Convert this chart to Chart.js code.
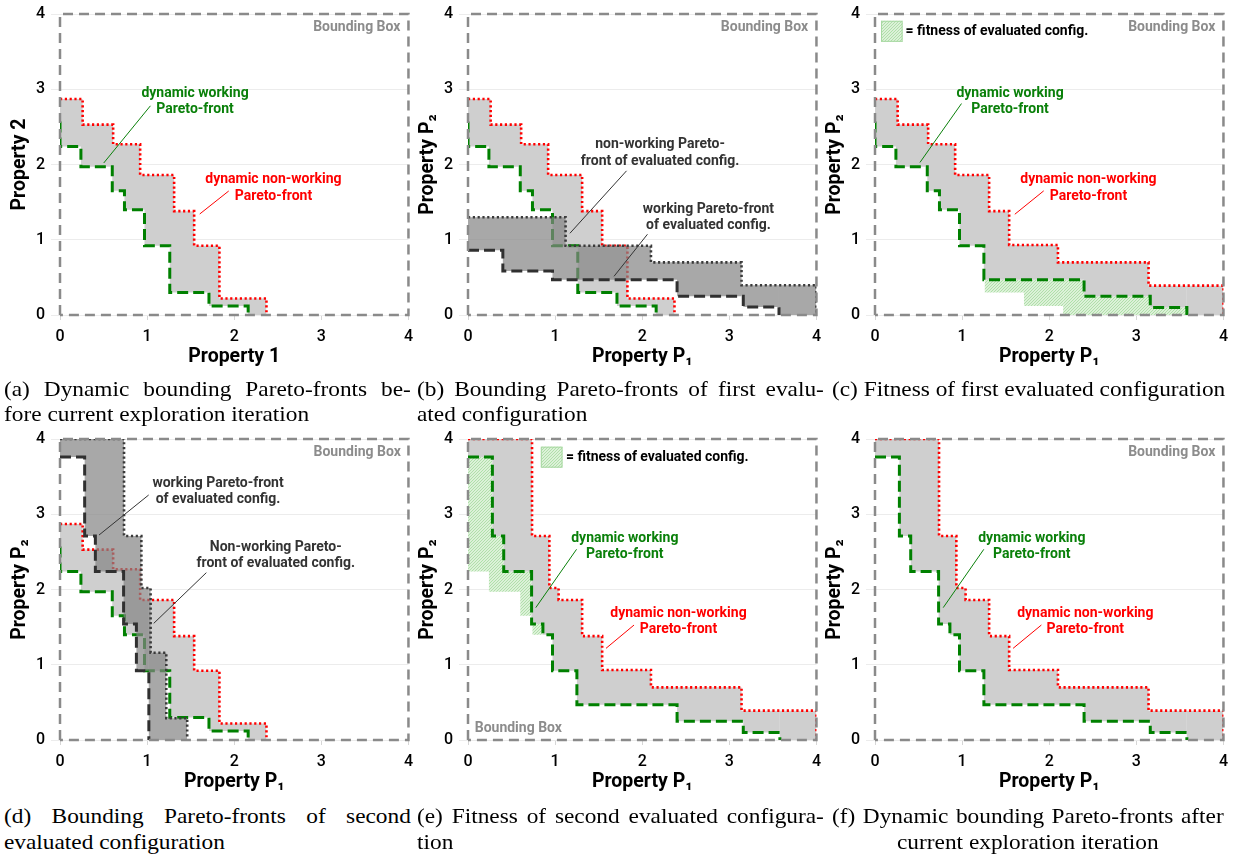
<!DOCTYPE html>
<html>
<head>
<meta charset="utf-8">
<script src="https://cdn.jsdelivr.net/npm/chart.js@4.4.1/dist/chart.umd.min.js"></script>
<style>
body { margin: 0; background: #fff; width: 1236px; height: 858px; position: relative; overflow: hidden; }
canvas { position: absolute; }
.cap { position: absolute; font-family: "Liberation Serif", "Times New Roman", serif; font-size: 21.5px; line-height: 25px; color: #000;
       transform: scaleX(1.085); transform-origin: 0 0; }
.cap.r2 { line-height: 26px; }
.j { text-align: justify; text-align-last: justify; }
.c { text-align: center; }
.nw { white-space: nowrap; }
</style>
</head>
<body>
<canvas id="pa" width="422" height="375" style="left:0;top:0"></canvas>
<canvas id="pb" width="422" height="375" style="left:408px;top:0"></canvas>
<canvas id="pc" width="422" height="375" style="left:815px;top:0"></canvas>
<canvas id="pd" width="422" height="375" style="left:0;top:425px"></canvas>
<canvas id="pe" width="422" height="375" style="left:408px;top:425px"></canvas>
<canvas id="pf" width="422" height="375" style="left:815px;top:425px"></canvas>

<div class="cap" style="left:4px;top:377px;width:375px">
  <div class="j">(a) Dynamic bounding Pareto-fronts be-</div>
  <div>fore current exploration iteration</div>
</div>
<div class="cap" style="left:417px;top:377px;width:375px">
  <div class="j">(b) Bounding Pareto-fronts of first evalu-</div>
  <div>ated configuration</div>
</div>
<div class="cap nw" style="left:832px;top:377px;width:361px">
  <div>(c) Fitness of first evaluated configuration</div>
</div>
<div class="cap r2" style="left:4px;top:803px;width:375px">
  <div class="j">(d) Bounding Pareto-fronts of second</div>
  <div>evaluated configuration</div>
</div>
<div class="cap r2" style="left:417px;top:803px;width:375px">
  <div class="j">(e) Fitness of second evaluated configura-</div>
  <div>tion</div>
</div>
<div class="cap r2" style="left:832px;top:803px;width:361px">
  <div class="j">(f) Dynamic bounding Pareto-fronts after</div>
  <div class="c">current exploration iteration</div>
</div>

<script>
// bounding box of the design space
const boxX = [0, 0, 4, 4, 0];
const boxY = [0, 4, 4, 0, 0];

// dynamic fronts before the exploration iteration (a, b, d)
const oldNwX = [0, 0.26, 0.61, 0.92, 1.31, 1.54, 1.83, 2.37];
const oldNwY = [2.87, 2.53, 2.27, 1.86, 1.38, 0.92, 0.22, 0];
const oldWX = [0, 0, 0.24, 0.60, 0.74, 0.97, 1.26, 1.71, 2.16];
const oldWY = [2.57, 2.24, 1.97, 1.65, 1.40, 0.92, 0.30, 0.12, 0];

// fronts of the first evaluated configuration (b)
const c1NwX = [0, 1.12, 2.10, 3.14, 4];
const c1NwY = [1.30, 0.92, 0.70, 0.395, 0];
const c1WX = [0, 0.40, 0.97, 2.40, 3.16, 3.57];
const c1WY = [0.86, 0.585, 0.47, 0.25, 0.105, 0];

// dynamic fronts after the first configuration (c)
const midNwX = [0, 0.26, 0.61, 0.92, 1.31, 1.54, 2.10, 3.14, 4];
const midNwY = [2.87, 2.53, 2.27, 1.86, 1.38, 0.93, 0.70, 0.39, 0];
const midWX = [0, 0, 0.24, 0.60, 0.74, 0.97, 1.25, 2.40, 3.16, 3.58];
const midWY = [2.57, 2.24, 1.97, 1.65, 1.40, 0.92, 0.47, 0.25, 0.10, 0];

// fronts of the second evaluated configuration (d)
const c2NwX = [0, 0.735, 0.934, 1.04, 1.22, 1.46];
const c2NwY = [4, 2.71, 2.02, 1.16, 0.29, 0];
const c2WX = [0, 0.283, 0.406, 0.73, 0.877, 1.02];
const c2WY = [3.76, 2.71, 2.24, 1.54, 0.92, 0];

// dynamic fronts after the exploration iteration (e, f)
const newNwX = [0, 0.735, 0.934, 1.04, 1.31, 1.54, 2.10, 3.14, 4];
const newNwY = [4, 2.71, 2.02, 1.86, 1.38, 0.93, 0.70, 0.39, 0];
const newWX = [0, 0.28, 0.41, 0.73, 0.86, 0.97, 1.25, 2.40, 3.16, 3.58];
const newWY = [3.76, 2.71, 2.24, 1.54, 1.40, 0.92, 0.47, 0.25, 0.10, 0];

const NONE = 'rgba(0,0,0,0)';
const GRAY = '#cfcfcf';
const DARK = 'rgba(132,132,132,0.71)';
const GTXT = '#0a800a';
const HATCH = (function () {
  const c = document.createElement('canvas');
  c.width = c.height = 3;
  const g = c.getContext('2d');
  g.fillStyle = '#dcf1d8';
  g.fillRect(0, 0, 3, 3);
  g.strokeStyle = '#b0dfaa';
  g.lineWidth = 1;
  g.beginPath();
  g.moveTo(0, 3); g.lineTo(3, 0);
  g.moveTo(-1, 1); g.lineTo(1, -1);
  g.moveTo(2, 4); g.lineTo(4, 2);
  g.stroke();
  return g.createPattern(c, 'repeat');
})();

const RED = { borderColor: '#ff0000', borderWidth: 2.6, borderDash: [2.2, 2.6] };
const GREEN = { borderColor: '#008000', borderWidth: 3, borderDash: [11, 5] };
const BDOT = { borderColor: '#3a3a3a', borderWidth: 2.6, borderDash: [2.2, 2.6] };
const BDASH = { borderColor: '#303030', borderWidth: 3, borderDash: [11, 5] };

function front(xs, ys, extra) {
  const data = xs.map((x, i) => ({ x: x, y: ys[i] }));
  if (xs[xs.length - 1] < 4) data.push({ x: 4, y: 0 });
  return Object.assign({
    data: data, showLine: true, stepped: true, pointRadius: 0,
    borderWidth: 1, borderColor: NONE, fill: false,
    segment: {
      borderColor: c => (data[c.p0DataIndex].y === 0 && data[c.p1DataIndex].y === 0) ? NONE : undefined
    }
  }, extra);
}

function area(up, low, color) {
  return { kind: 'area', up: up, low: low, color: color };
}
function line(xs, ys, style) {
  return { kind: 'line', xs: xs, ys: ys, style: style };
}

function buildDatasets(layers) {
  const ds = [];
  layers.forEach(l => {
    if (l.kind === 'area') {
      const lowIdx = ds.length;
      ds.push(front(l.low[0], l.low[1], {}));
      ds.push(front(l.up[0], l.up[1], {
        backgroundColor: l.color,
        fill: { target: lowIdx, above: l.color, below: l.color }
      }));
    } else {
      ds.push(front(l.xs, l.ys, l.style));
    }
  });
  ds.push({
    data: boxX.map((x, i) => ({ x: x, y: boxY[i] })),
    showLine: true, pointRadius: 0, fill: false, clip: false,
    borderColor: '#8a8a8a', borderWidth: 2.5, borderDash: [10, 6]
  });
  const n = ds.length;
  ds.forEach((d, i) => { d.order = n - i; });
  return ds;
}

function notesPlugin(items) {
  return {
    id: 'notes',
    afterDatasetsDraw(chart) {
      const ctx = chart.ctx;
      const sx = chart.scales.x, sy = chart.scales.y;
      const px = v => sx.getPixelForValue(v);
      const py = v => sy.getPixelForValue(v);
      ctx.save();
      items.forEach(n => {
        if (n.lead) {
          ctx.strokeStyle = n.color;
          ctx.lineWidth = 1;
          ctx.setLineDash([]);
          ctx.beginPath();
          ctx.moveTo(px(n.lead[0]), py(n.lead[1]));
          ctx.lineTo(px(n.lead[2]), py(n.lead[3]));
          ctx.stroke();
        }
        if (n.swatch) {
          const x0 = px(n.swatch[0]), y0 = py(n.swatch[1]);
          const w = px(n.swatch[2]) - x0, h = py(n.swatch[3]) - y0;
          ctx.fillStyle = HATCH;
          ctx.fillRect(x0, y0, w, h);
          ctx.strokeStyle = '#a8d8a2';
          ctx.lineWidth = 1;
          ctx.strokeRect(x0 + 0.5, y0 + 0.5, w - 1, h - 1);
        }
        if (n.text) {
          ctx.font = 'bold 14px Roboto';
          ctx.fillStyle = n.color;
          ctx.textAlign = n.align || 'center';
          ctx.textBaseline = 'middle';
          n.text.forEach((t, i) => ctx.fillText(t, px(n.at[0]), py(n.at[1]) + i * 16.5));
        }
      });
      ctx.restore();
    }
  };
}

const tickFont = { family: 'Roboto', size: 16, weight: '500', lineHeight: 1 };
const titleFont = { family: 'Roboto', size: 19.5, weight: 'bold' };

function makeChart(id, xTitle, yTitle, layers, notes) {
  new Chart(document.getElementById(id), {
    type: 'scatter',
    data: { datasets: buildDatasets(layers) },
    plugins: [notesPlugin(notes)],
    options: {
      responsive: false,
      animation: false,
      events: [],
      layout: { padding: { top: 14, right: 7, left: 0, bottom: 0 } },
      plugins: {
        legend: { display: false },
        tooltip: { enabled: false },
        filler: { drawTime: 'beforeDatasetDraw' }
      },
      scales: {
        x: {
          type: 'linear', min: 0, max: 4,
          afterFit: s => { s.height = 60; },
          ticks: { stepSize: 1, padding: 9, color: '#000', font: tickFont },
          grid: { drawOnChartArea: false, drawTicks: true, tickLength: 5, color: '#d6d6d6' },
          border: { display: false },
          title: { display: true, text: xTitle, color: '#000', font: titleFont, padding: { top: 0, bottom: 6 } }
        },
        y: {
          type: 'linear', min: 0, max: 4,
          afterFit: s => { s.width = 60; },
          ticks: { stepSize: 1, padding: 6, color: '#000', font: tickFont },
          grid: { color: '#ececec', drawTicks: true, tickLength: 9 },
          border: { display: false },
          title: { display: true, text: yTitle, color: '#000', font: titleFont, padding: { top: 8, bottom: 0 } }
        }
      }
    }
  });
}

const BB = at => ({ text: ['Bounding Box'], at: at, align: 'right', color: '#8c8c8c' });
const workNote = (at, lead) => ({ text: ['dynamic working', 'Pareto-front'], at: at, lead: lead, color: GTXT });
const nonWorkNote = (at, lead) => ({ text: ['dynamic non-working', 'Pareto-front'], at: at, lead: lead, color: '#ff0000' });

makeChart('pa', 'Property 1', 'Property 2', [
  area([oldNwX, oldNwY], [oldWX, oldWY], GRAY),
  line(oldWX, oldWY, GREEN),
  line(oldNwX, oldNwY, RED)
], [
  workNote([1.55, 2.95], [1.038, 2.78, 0.502, 2.02]),
  nonWorkNote([2.45, 1.795], [1.937, 1.648, 1.604, 1.342]),
  BB([3.908, 3.827])
]);

makeChart('pb', 'Property P\u2081', 'Property P\u2082', [
  area([oldNwX, oldNwY], [oldWX, oldWY], GRAY),
  line(oldWX, oldWY, GREEN),
  line(oldNwX, oldNwY, RED),
  area([c1NwX, c1NwY], [c1WX, c1WY], DARK),
  line(c1WX, c1WY, BDASH),
  line(c1NwX, c1NwY, BDOT)
], [
  { text: ['non-working Pareto-', 'front of evaluated config.'], at: [2.205, 2.26], lead: [1.82, 1.916, 1.17, 1.086], color: '#333' },
  { text: ['working Pareto-front', 'of evaluated config.'], at: [2.76, 1.406], lead: [2.06, 1.073, 1.676, 0.514], color: '#333' },
  BB([3.904, 3.82])
]);

makeChart('pc', 'Property P\u2081', 'Property P\u2082', [
  area([midWX, midWY], [oldWX, oldWY], HATCH),
  area([midNwX, midNwY], [midWX, midWY], GRAY),
  line(midWX, midWY, GREEN),
  line(midNwX, midNwY, RED)
], [
  { swatch: [0.069, 3.91, 0.317, 3.63] },
  { text: ['= fitness of evaluated config.'], at: [0.351, 3.765], align: 'left', color: '#000' },
  workNote([1.55, 2.95], [0.993, 2.81, 0.516, 2.027]),
  nonWorkNote([2.45, 1.796], [1.937, 1.65, 1.605, 1.339]),
  BB([3.908, 3.82])
]);

makeChart('pd', 'Property P\u2081', 'Property P\u2082', [
  area([oldNwX, oldNwY], [oldWX, oldWY], GRAY),
  line(oldWX, oldWY, GREEN),
  line(oldNwX, oldNwY, RED),
  area([c2NwX, c2NwY], [c2WX, c2WY], DARK),
  line(c2WX, c2WY, BDASH),
  line(c2NwX, c2NwY, BDOT)
], [
  { text: ['working Pareto-front', 'of evaluated config.'], at: [1.814, 3.41], lead: [1.018, 3.256, 0.448, 2.724], color: '#333' },
  { text: ['Non-working Pareto-', 'front of evaluated config.'], at: [2.477, 2.56], lead: [1.68, 2.224, 1.076, 1.55], color: '#333' },
  BB([3.912, 3.823])
]);

makeChart('pe', 'Property P\u2081', 'Property P\u2082', [
  area([newWX, newWY], [midWX, midWY], HATCH),
  area([newNwX, newNwY], [newWX, newWY], GRAY),
  line(newWX, newWY, GREEN),
  line(newNwX, newNwY, RED)
], [
  { swatch: [0.836, 3.898, 1.085, 3.619] },
  { text: ['= fitness of evaluated config.'], at: [1.124, 3.756], align: 'left', color: '#000' },
  { text: ['Bounding Box'], at: [0.077, 0.155], align: 'left', color: '#8c8c8c' },
  workNote([1.80, 2.68], [1.246, 2.534, 0.778, 1.759]),
  nonWorkNote([2.416, 1.683], [1.906, 1.528, 1.584, 1.218])
]);

makeChart('pf', 'Property P\u2081', 'Property P\u2082', [
  area([newNwX, newNwY], [newWX, newWY], GRAY),
  line(newWX, newWY, GREEN),
  line(newNwX, newNwY, RED)
], [
  workNote([1.80, 2.68], [1.249, 2.534, 0.783, 1.759]),
  nonWorkNote([2.414, 1.683], [1.91, 1.528, 1.585, 1.218]),
  BB([3.908, 3.823])
]);
</script>
</body>
</html>
